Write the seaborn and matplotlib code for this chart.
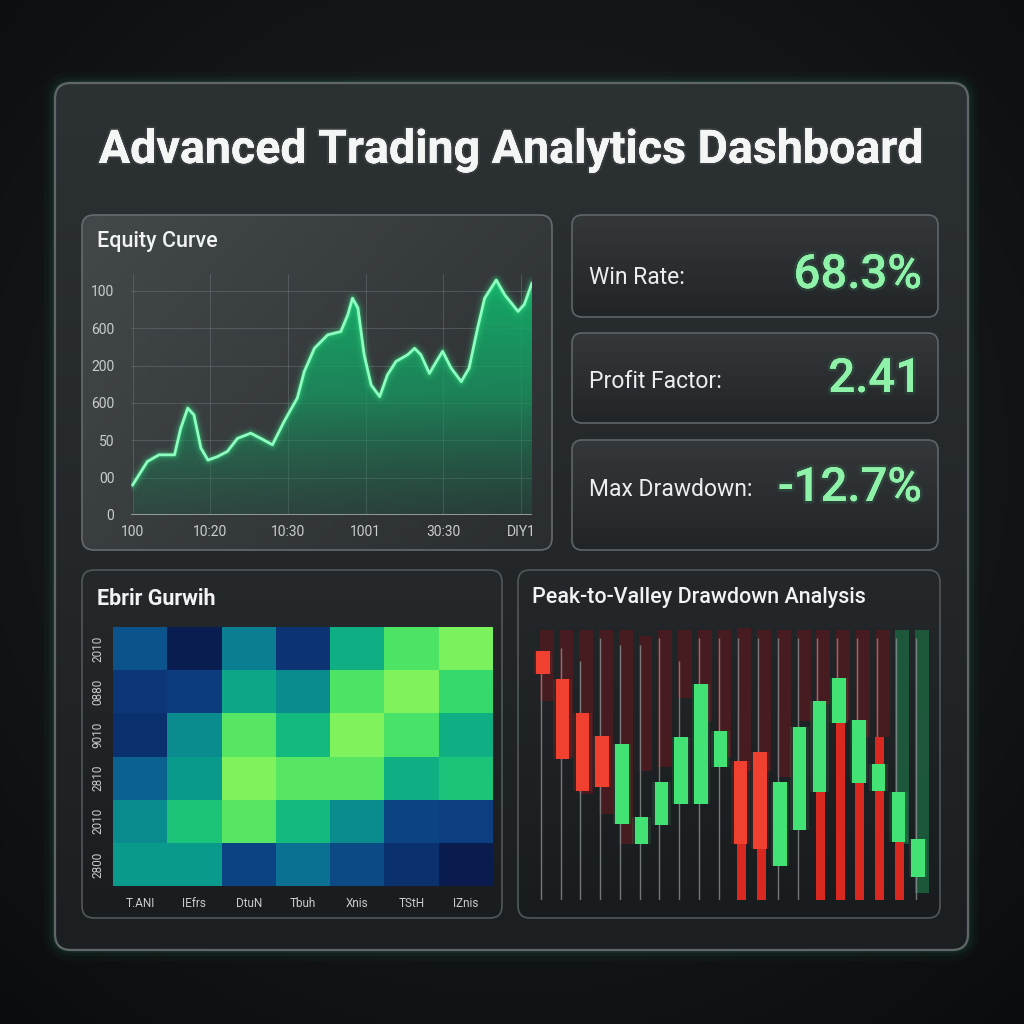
import numpy as np
import pandas as pd
import matplotlib
matplotlib.use("Agg")
import matplotlib.pyplot as plt
import seaborn as sns
from matplotlib.patches import FancyBboxPatch, Polygon
from matplotlib.colors import LinearSegmentedColormap, to_rgba
import matplotlib.patheffects as pe

sns.set_theme(style="dark")
plt.rcParams['font.family'] = ['Roboto', 'DejaVu Sans']

# ---------------- data ----------------
dashboard_title = "Advanced Trading Analytics Dashboard"

equity_title = "Equity Curve"
equity_x = [0.0, 0.19, 0.34, 0.54, 0.62, 0.71, 0.79, 0.88, 0.97, 1.09, 1.22, 1.35, 1.52,
            1.65, 1.80, 1.95, 2.12, 2.21, 2.34, 2.51, 2.68, 2.77, 2.83, 2.90, 2.98, 3.07,
            3.18, 3.28, 3.39, 3.54, 3.63, 3.71, 3.82, 3.91, 3.99, 4.10, 4.23, 4.33, 4.44,
            4.53, 4.68, 4.79, 4.96, 5.04, 5.14]
equity_y = [0.80, 1.43, 1.61, 1.61, 2.32, 2.86, 2.68, 1.79, 1.47, 1.56, 1.70, 2.05, 2.19,
            2.05, 1.88, 2.50, 3.13, 3.84, 4.46, 4.82, 4.91, 5.36, 5.80, 5.54, 4.29, 3.48,
            3.17, 3.75, 4.11, 4.29, 4.46, 4.29, 3.79, 4.11, 4.38, 3.93, 3.57, 3.93, 5.00,
            5.80, 6.29, 5.89, 5.45, 5.63, 6.21]
equity_ytick_labels = ["0", "00", "50", "600", "200", "600", "100"]
equity_xtick_labels = ["100", "10:20", "10:30", "1001", "30:30", "DIY1"]

kpi_labels = ["Win Rate:", "Profit Factor:", "Max Drawdown:"]
kpi_values = ["68.3%", "2.41", "-12.7%"]

heat_title = "Ebrir Gurwih"
heat_rows = ["2010", "0880", "9010", "2810", "2010", "2800"]
heat_cols = ["T.ANI", "IEfrs", "DtuN", "Tbuh", "Xnis", "TStH", "IZnis"]
heat_values = [
    [0.25, 0.03, 0.40, 0.14, 0.60, 0.86, 0.96],
    [0.15, 0.17, 0.56, 0.45, 0.86, 0.97, 0.80],
    [0.12, 0.45, 0.88, 0.66, 0.97, 0.85, 0.60],
    [0.30, 0.50, 0.97, 0.88, 0.88, 0.60, 0.70],
    [0.45, 0.70, 0.88, 0.66, 0.45, 0.20, 0.18],
    [0.50, 0.50, 0.20, 0.35, 0.22, 0.12, 0.02],
]

candle_title = "Peak-to-Valley Drawdown Analysis"
candle_open = [76.2, 67.5, 57.5, 50.3, 24.0, 18.0, 23.5, 30.0, 30.0, 41.2,
               43.0, 45.5, 11.3, 22.0, 33.5, 54.3, 36.2, 33.8, 18.5, 8.0]
candle_close = [69.2, 43.5, 34.0, 35.0, 48.0, 26.0, 36.7, 50.0, 66.2, 52.0,
                18.0, 16.5, 36.7, 53.2, 61.0, 68.0, 55.3, 42.0, 33.7, 19.3]
wick_high = [70, 77, 73, 80, 78, 78, 80, 73, 80, 80, 80, 80, 80, 80, 80, 80, 80, 80, 80, 80]
wick_low = [1, 1, 1, 1, 1, 1, 1, 1, 1, 1, 1, 1, 1, 1, 1, 1, 1, 1, 1, 1]
tail_top = [np.nan] * 10 + [18.0, 16.5, np.nan, np.nan, 33.5, 54.3, 36.2, 50.0, 18.5, np.nan]
tail_bottom = [np.nan] * 10 + [1, 1, np.nan, np.nan, 1, 1, 1, 1, 1, np.nan]
peak_level = [82.5, 82.5, 82.5, 82.5, 82.5, 80.5, 82.5, 82.5, 82.5, 82.5,
              83.0, 82.5, 82.5, 82.5, 82.5, 82.5, 82.5, 82.5, 82.5, 82.5]
trough_level = [61, 44, 33, 27, 18, 40, 41, 62, 55, 44,
                40, 40, 38, 55, 60, 55, 50, 50, 18, 3]
trough_kind = ["loss"] * 18 + ["gain"] * 2

# ---------------- figure ----------------
W = H = 1024
fig = plt.figure(figsize=(10.24, 10.24), dpi=100)
fig.patch.set_facecolor('#0e1012')

bg = fig.add_axes([0, 0, 1, 1])
bg.set_xlim(0, W)
bg.set_ylim(H, 0)
bg.axis('off')

# radial background
yy, xx = np.mgrid[0:256, 0:256] / 255.0
r = np.sqrt((xx - 0.5) ** 2 + (yy - 0.45) ** 2)
bgc = LinearSegmentedColormap.from_list('bgc', ['#1d2124', '#15181a', '#0b0c0e'])
bg.imshow(r, extent=[0, W, H, 0], cmap=bgc, vmin=0, vmax=0.75, zorder=0, aspect='auto')


def panel(x0, y0, x1, y1, c_top, c_bot, edge, rad=12, lw=1.2, direction='v', z=1):
    patch = FancyBboxPatch((x0, y0), x1 - x0, y1 - y0,
                           boxstyle=f"round,pad=0,rounding_size={rad}",
                           facecolor='none', edgecolor=edge, linewidth=lw, zorder=z + 0.5)
    bg.add_patch(patch)
    cm = LinearSegmentedColormap.from_list('p', [c_top, c_bot])
    if direction == 'v':
        g = np.linspace(0, 1, 256).reshape(-1, 1)
    else:
        gy, gx = np.mgrid[0:64, 0:64] / 63.0
        g = 0.6 * gx + 0.4 * gy
    im = bg.imshow(g, extent=[x0, x1, y1, y0], cmap=cm, aspect='auto', zorder=z)
    clip = FancyBboxPatch((x0, y0), x1 - x0, y1 - y0,
                          boxstyle=f"round,pad=0,rounding_size={rad}",
                          facecolor='none', edgecolor='none', transform=bg.transData)
    im.set_clip_path(clip)
    return patch


# outer panel with soft green halo (stronger toward the lower right)
for lw_, a_ in [(16, 0.03), (9, 0.05), (4, 0.07)]:
    bg.add_patch(FancyBboxPatch((55, 83), 913, 867, boxstyle="round,pad=0,rounding_size=16",
                                facecolor='none', edgecolor=(0.25, 0.75, 0.5, a_),
                                linewidth=lw_, zorder=1))
panel(55, 83, 968, 950, '#2c3134', '#1c1f22', '#60676b', rad=16, lw=1.6, z=1.2)

# sub panels
panel(82, 215, 552, 550, '#43484b', '#2a2e31', '#646b6f', rad=12, direction='d', z=2)
panel(572, 215, 938, 317, '#34383b', '#222528', '#5e6569', rad=10, z=2)
panel(572, 333, 938, 423, '#34383b', '#222528', '#5e6569', rad=10, z=2)
panel(572, 440, 938, 550, '#34383b', '#222528', '#5e6569', rad=10, z=2)
panel(82, 570, 502, 918, '#26292c', '#1a1d1f', '#50575b', rad=12, z=2)
panel(518, 570, 940, 918, '#25282b', '#191c1e', '#50575b', rad=12, z=2)

# titles
bg.text(511, 150, dashboard_title, ha='center', va='center', fontsize=33.5, fontweight='bold',
        color='#f4f6f6', zorder=5,
        path_effects=[pe.withStroke(linewidth=3, foreground=(1, 1, 1, 0.07)), pe.Normal()])
bg.text(97, 242, equity_title, ha='left', va='center', fontsize=15.5, fontweight='medium',
        color='#f2f4f4', zorder=5)
bg.text(97, 599, heat_title, ha='left', va='center', fontsize=15.5, fontweight='bold',
        color='#f2f4f4', zorder=5)
bg.text(532, 598, candle_title, ha='left', va='center', fontsize=15.5, fontweight='medium',
        color='#f2f4f4', zorder=5)

# KPI cards
kpi_y = [277, 381, 490]
glow = [pe.withStroke(linewidth=4, foreground=(0.3, 0.95, 0.55, 0.10)), pe.Normal()]
for lab, val, yc in zip(kpi_labels, kpi_values, kpi_y):
    bg.text(589, yc, lab, ha='left', va='center', fontsize=16.5, color='#eceeee', zorder=5)
    bg.text(922, yc - 2, val, ha='right', va='center', fontsize=34, fontweight='medium',
            color='#8ef2a9', zorder=5, path_effects=glow)

# ---------------- equity curve ----------------
ax = fig.add_axes([131 / W, 1 - 515 / H, 401 / W, 241 / H], zorder=3)
ax.set_facecolor('none')
xmax, ymax = 5.14, 6.45
verts = np.column_stack([[equity_x[0]] + equity_x + [equity_x[-1]],
                         [0] + equity_y + [0]])
clip = Polygon(verts, closed=True, facecolor='none', edgecolor='none', transform=ax.transData)
ax.add_patch(clip)
fill_cm = LinearSegmentedColormap.from_list(
    'fill', [to_rgba('#1e6a4c', 0.25), to_rgba('#169c62', 0.75), to_rgba('#13b46c', 0.95)])
grad = np.linspace(0, 1, 256).reshape(-1, 1)
im = ax.imshow(grad, extent=[0, xmax, 0, ymax], origin='lower', aspect='auto', cmap=fill_cm,
               zorder=1)
im.set_clip_path(clip)
eq_df = pd.DataFrame({'t': equity_x, 'equity': equity_y})
for lw_, a_ in [(10, 0.06), (6.5, 0.10), (4, 0.20)]:
    sns.lineplot(data=eq_df, x='t', y='equity', ax=ax, color='#3cf08c', lw=lw_, alpha=a_,
                 zorder=2, sort=False)
sns.lineplot(data=eq_df, x='t', y='equity', ax=ax, color='#8dffc0', lw=2.0, zorder=3, sort=False)
ax.set_xlim(-0.02, xmax)
ax.set_ylim(0, ymax)
ax.set_xticks(range(len(equity_xtick_labels)))
ax.set_xticklabels(equity_xtick_labels)
ax.set_yticks(range(len(equity_ytick_labels)))
ax.set_yticklabels(equity_ytick_labels)
ax.set_xlabel('')
ax.set_ylabel('')
ax.tick_params(axis='both', colors='#c9cdd0', labelsize=10, length=0)
ax.tick_params(axis='y', pad=12)
ax.tick_params(axis='x', pad=7)
ax.grid(True, color='#6a7074', lw=0.7, alpha=0.55)
for s in ax.spines.values():
    s.set_visible(False)
ax.axhline(0, color='#a5abae', lw=1.2, zorder=4)

# ---------------- heatmap ----------------
cm_heat = LinearSegmentedColormap.from_list(
    'heat', ['#0a1748', '#0c3a7e', '#0b6c95', '#0a9a8c', '#13bc7d', '#3fe068', '#8cf65a'])
hax = fig.add_axes([113 / W, 1 - 886 / H, 380 / W, 259 / H], zorder=3)
heat_df = pd.DataFrame(heat_values, index=heat_rows, columns=heat_cols)
sns.heatmap(heat_df, ax=hax, cmap=cm_heat, vmin=0, vmax=1, cbar=False, linewidths=0)
hax.tick_params(axis='both', colors='#c8cccc', labelsize=8.5, length=0)
hax.set_yticklabels(heat_rows, rotation=90, va='center')
hax.set_xticklabels(heat_cols, rotation=0)
hax.tick_params(axis='y', pad=6)
hax.tick_params(axis='x', pad=8)
hax.set_xlabel('')
hax.set_ylabel('')

# ---------------- drawdown candles ----------------
cax = fig.add_axes([532 / W, 1 - 900 / H, 398 / W, 272 / H], zorder=3)
cax.set_facecolor('none')
n = len(candle_open)
xs = np.arange(n)
bw = 0.68
for i in range(n):
    col = '#4c1c20' if trough_kind[i] == 'loss' else '#1e5e3e'
    cax.bar(xs[i] + 0.2, peak_level[i] - trough_level[i], bottom=trough_level[i], width=0.7,
            color=col, alpha=0.9, zorder=1, linewidth=0)
cax.vlines(xs - 0.1, wick_low, wick_high, color='#8a8f92', lw=1.0, alpha=0.8, zorder=2)
for i in range(n):
    if not np.isnan(tail_top[i]):
        cax.bar(xs[i] + 0.05, tail_top[i] - tail_bottom[i], bottom=tail_bottom[i], width=0.45,
                color='#d8281f', zorder=3, linewidth=0)
for i in range(n):
    up = candle_close[i] >= candle_open[i]
    lo, hi = min(candle_open[i], candle_close[i]), max(candle_open[i], candle_close[i])
    col = '#42e274' if up else '#f0402f'
    cax.bar(xs[i], hi - lo, bottom=lo, width=bw + 0.25, color=col, alpha=0.12, zorder=4,
            linewidth=0)
    cax.bar(xs[i], hi - lo, bottom=lo, width=bw, color=col, zorder=5, linewidth=0)
cax.set_xlim(-0.55, n - 0.4)
cax.set_ylim(1, 83)
cax.set_xticks([])
cax.set_yticks([])
for s in cax.spines.values():
    s.set_visible(False)

fig.savefig('out.png', dpi=100, facecolor=fig.get_facecolor())
